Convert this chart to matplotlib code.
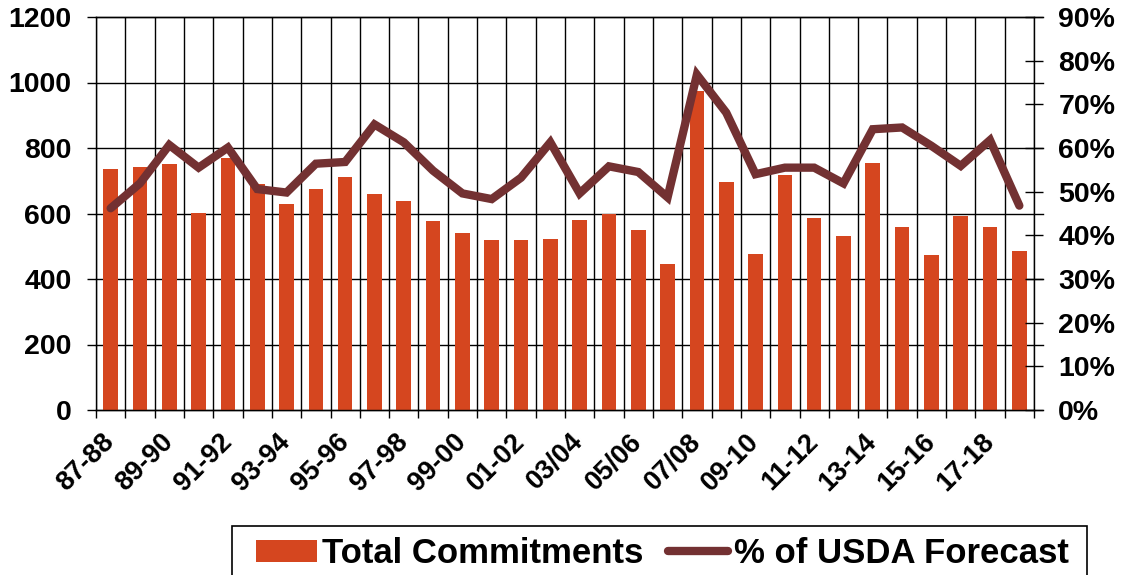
import matplotlib.pyplot as plt
import matplotlib.patches as mpatches
import numpy as np

plt.rcParams["font.family"] = ["Liberation Sans", "DejaVu Sans"]
plt.rcParams["font.weight"] = "bold"

# Marketing years
seasons = [
    "87-88", "88-89", "89-90", "90-91", "91-92", "92-93", "93-94", "94-95",
    "95-96", "96-97", "97-98", "98-99", "99-00", "00-01", "01-02", "02-03",
    "03/04", "04/05", "05/06", "06/07", "07/08", "08/09", "09-10", "10-11",
    "11-12", "12-13", "13-14", "14-15", "15-16", "16-17", "17-18", "18-19",
]

# Total commitments (left axis)
commitments = [
    737, 741, 750, 603, 768, 690, 630, 674,
    710, 661, 638, 577, 540, 519, 519, 522,
    580, 598, 549, 445, 975, 697, 477, 719,
    585, 531, 755, 558, 474, 593, 558, 487,
]

# Commitments as % of USDA export forecast (right axis)
pct_forecast = [
    46.2, 51.9, 60.7, 55.5, 60.1, 50.6, 49.8, 56.4,
    56.8, 65.4, 61.3, 54.8, 49.6, 48.3, 53.2, 61.3,
    49.6, 55.8, 54.5, 48.7, 76.8, 68.1, 54.0, 55.5,
    55.5, 51.9, 64.3, 64.7, 60.5, 55.9, 61.8, 46.8,
]

bar_color = "#D5461F"
line_color = "#733132"

x = np.arange(len(seasons))

fig = plt.figure(figsize=(11.23, 5.75), dpi=100)
ax = fig.add_axes([96 / 1123, 1 - 410 / 575, 938 / 1123, 393 / 575])
ax2 = ax.twinx()

bars = ax.bar(x, commitments, width=0.5, color=bar_color, zorder=2,
              label="Total Commitments")

ax.set_xlim(-0.5, len(seasons) - 0.5)
ax.set_ylim(0, 1200)
ax.set_yticks(range(0, 1201, 200))

# horizontal grid, sticking out a bit past the right spine
for yv in range(0, 1201, 200):
    ax.axhline(yv, xmin=0, xmax=1 + 9 / 938, color="black", lw=1.0,
               zorder=1, clip_on=False)

# vertical grid on category boundaries
bounds = np.arange(len(seasons) + 1) - 0.5
ax.set_xticks(bounds, minor=True)
ax.grid(True, which="minor", axis="x", color="black", lw=1.0, zorder=1)
ax.set_xticks(x[::2])
ax.set_xticklabels(seasons[::2], rotation=45, ha="right", va="center",
                   rotation_mode="anchor", fontsize=19.5, fontweight="bold")
ax.tick_params(axis="x", which="major", length=0, pad=20)
ax.tick_params(axis="x", which="minor", length=6, width=1.0, color="black",
               direction="out")
ax.tick_params(axis="y", length=6.5, width=1.0, direction="out",
               labelsize=20.5, pad=11)
for lbl in ax.get_yticklabels():
    lbl.set_fontweight("bold")

for s in ["top", "left", "right", "bottom"]:
    ax.spines[s].set_linewidth(1.0)
    ax.spines[s].set_color("black")

line, = ax2.plot(x, pct_forecast, color=line_color, lw=6,
                 solid_capstyle="round", solid_joinstyle="miter",
                 zorder=3, label="% of USDA Forecast")
ax2.set_ylim(0, 90)
ax2.set_yticks(range(0, 91, 10))
ax2.set_yticklabels([f"{v}%" for v in range(0, 91, 10)], fontsize=20.5,
                    fontweight="bold")
ax2.tick_params(axis="y", length=13, width=1.0, direction="inout", pad=11)
for s in ax2.spines.values():
    s.set_visible(False)

# legend without its own frame, box drawn separately (runs off the bottom)
leg = fig.legend([bars, line], ["Total Commitments", "% of USDA Forecast"],
                 loc="upper left", bbox_to_anchor=(256 / 1123, 1 - 537 / 575),
                 ncol=2, prop={"weight": "bold", "size": 25},
                 frameon=False, borderaxespad=0, borderpad=0,
                 handlelength=1.75, handleheight=0.62, handletextpad=0.15,
                 columnspacing=0.7)
box = mpatches.Rectangle((232 / 1123, -0.02), 855 / 1123, 49 / 575 + 0.02,
                         transform=fig.transFigure, fill=False,
                         edgecolor="black", lw=1.2, clip_on=False)
fig.add_artist(box)

fig.savefig("out.png", dpi=100)
